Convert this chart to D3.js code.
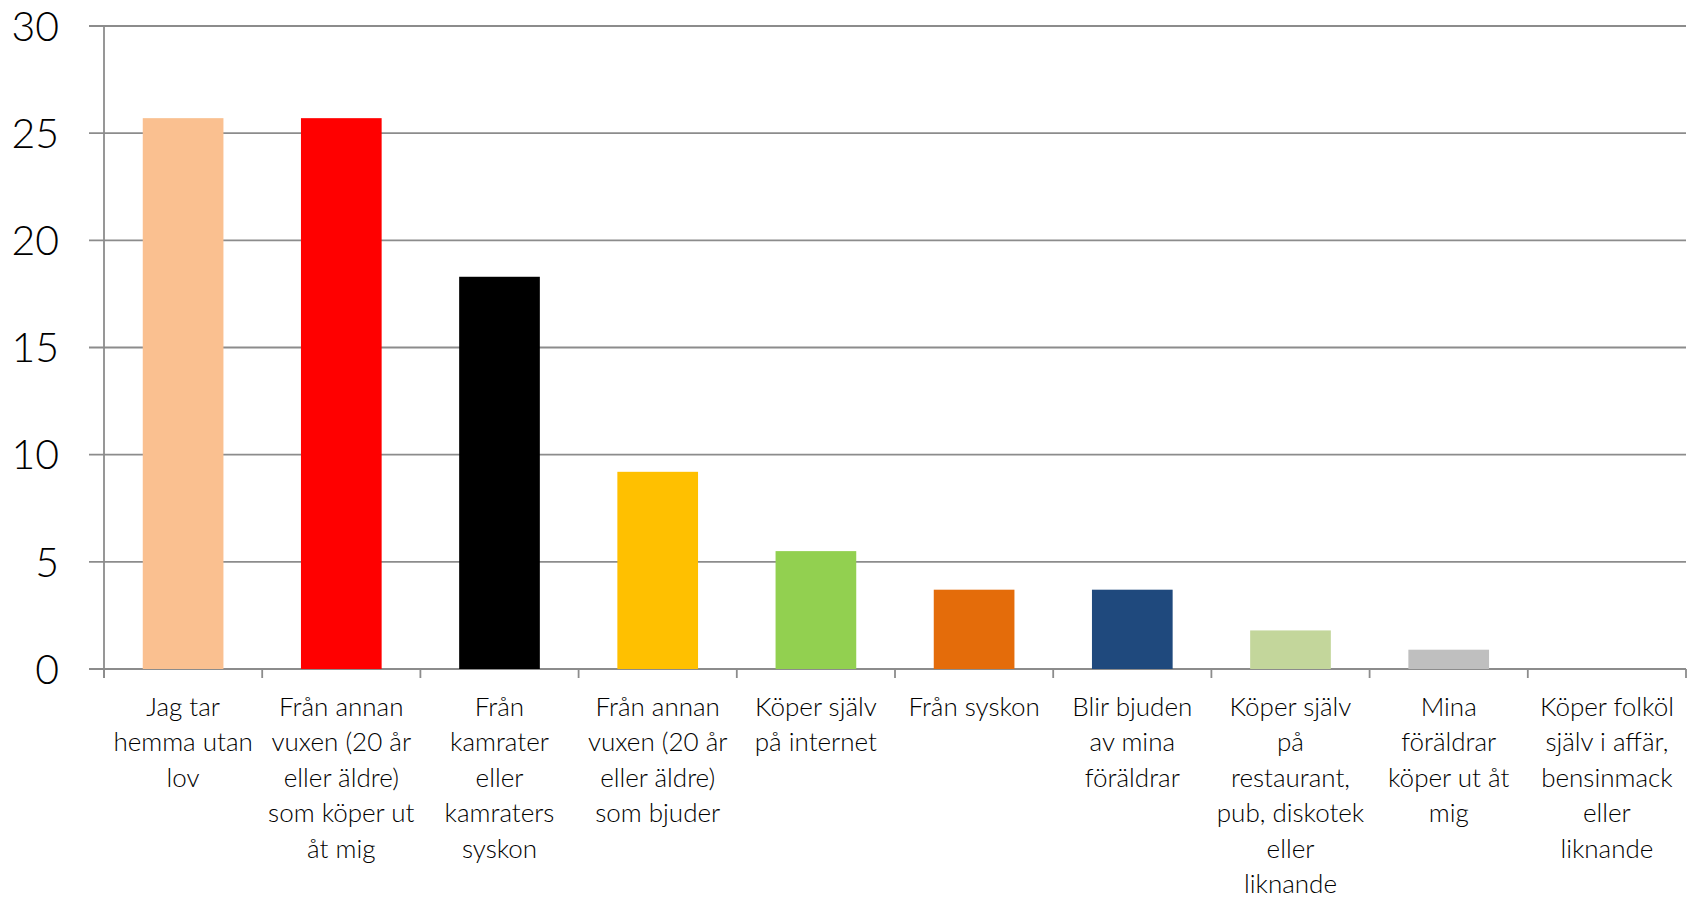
<!DOCTYPE html>
<html>
<head>
<meta charset="utf-8">
<script src="https://cdn.jsdelivr.net/npm/d3@7"></script>
<style>
  body { margin: 0; background: #fff; }
  text { font-family: Lato, "Open Sans", sans-serif; font-weight: 300; fill: #000; }
</style>
</head>
<body>
<script>
// categories, line breaks as in the original chart
var categories = [
  "Jag tar\nhemma utan\nlov",
  "Från annan\nvuxen (20 år\neller äldre)\nsom köper ut\nåt mig",
  "Från\nkamrater\neller\nkamraters\nsyskon",
  "Från annan\nvuxen (20 år\neller äldre)\nsom bjuder",
  "Köper själv\npå internet",
  "Från syskon",
  "Blir bjuden\nav mina\nföräldrar",
  "Köper själv\npå\nrestaurant,\npub, diskotek\neller\nliknande",
  "Mina\nföräldrar\nköper ut åt\nmig",
  "Köper folköl\nsjälv i affär,\nbensinmack\neller\nliknande"
];
var values = [25.7, 25.7, 18.3, 9.2, 5.5, 3.7, 3.7, 1.8, 0.9, 0];
var colors = ["#FAC090", "#FF0000", "#000000", "#FFC000", "#92D050",
              "#E46C0A", "#1F497D", "#C3D69B", "#BFBFBF", "#8EB4E3"];
var yTicks = [0, 5, 10, 15, 20, 25, 30];

var width = 1692;
var height = 898;
var plotLeft = 104, plotRight = 1686, plotTop = 26, plotBottom = 669;
var gridColor = "#8c8c8c";

var svg = d3.select("body").append("svg")
            .attr("width", width)
            .attr("height", height);

var x = d3.scaleBand()
          .domain(d3.range(categories.length))
          .range([plotLeft, plotRight])
          .paddingInner(0.49)
          .paddingOuter(0.245);

var y = d3.scaleLinear()
          .domain([0, 30])
          .range([plotBottom, plotTop]);

// horizontal gridlines
svg.selectAll("line.grid")
   .data(yTicks)
   .enter().append("line")
   .attr("class", "grid")
   .attr("x1", plotLeft - 15)
   .attr("x2", plotRight)
   .attr("y1", function(d){ return y(d); })
   .attr("y2", function(d){ return y(d); })
   .attr("stroke", gridColor)
   .attr("stroke-width", 1.8);

// y tick labels
svg.selectAll("text.ylab")
   .data(yTicks)
   .enter().append("text")
   .attr("class", "ylab")
   .attr("x", 59)
   .attr("y", function(d){ return y(d); })
   .attr("dy", "0.36em")
   .attr("text-anchor", "end")
   .style("font-size", "41px")
   .text(function(d){ return d; });

// bars
svg.selectAll("rect.bar")
   .data(values)
   .enter().append("rect")
   .attr("class", "bar")
   .attr("x", function(d, i){ return x(i); })
   .attr("width", x.bandwidth())
   .attr("y", function(d){ return y(d); })
   .attr("height", function(d){ return y(0) - y(d); })
   .attr("fill", function(d, i){ return colors[i]; });

// y axis line
svg.append("line")
   .attr("x1", plotLeft).attr("x2", plotLeft)
   .attr("y1", plotTop).attr("y2", plotBottom + 9)
   .attr("stroke", gridColor).attr("stroke-width", 1.8);

// category boundary ticks
var gap = (x.step() - x.bandwidth()) / 2;
var bounds = d3.range(categories.length + 1).map(function(i){
  return i < categories.length ? x(i) - gap : x(i - 1) + x.bandwidth() + gap;
});
svg.selectAll("line.xtick")
   .data(bounds)
   .enter().append("line")
   .attr("class", "xtick")
   .attr("x1", function(d){ return d; })
   .attr("x2", function(d){ return d; })
   .attr("y1", plotBottom)
   .attr("y2", plotBottom + 9)
   .attr("stroke", gridColor).attr("stroke-width", 1.8);

// category labels
var lab = svg.selectAll("text.xlab")
   .data(categories)
   .enter().append("text")
   .attr("class", "xlab")
   .attr("text-anchor", "middle")
   .style("font-size", "26px")
   .attr("transform", function(d, i){
     return "translate(" + (x(i) + x.bandwidth() / 2) + ",716)";
   });

lab.selectAll("tspan")
   .data(function(d){ return d.split("\n"); })
   .enter().append("tspan")
   .attr("x", 0)
   .attr("y", function(d, i){ return i * 35.4; })
   .text(function(d){ return d; });
</script>
</body>
</html>
